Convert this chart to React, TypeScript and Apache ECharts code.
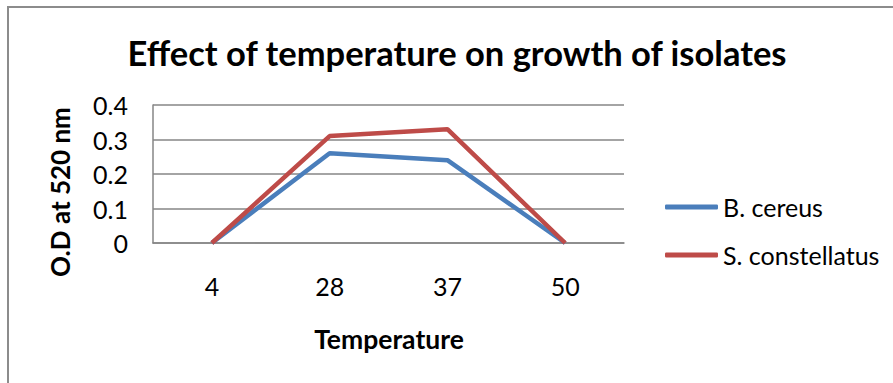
import React, { useEffect, useRef } from "react";
import * as echarts from "echarts";

const temperatures = ["4", "28", "37", "50"];
const bCereus = [0, 0.26, 0.24, 0];
const sConstellatus = [0, 0.31, 0.33, 0];
const yTicks = [0, 0.1, 0.2, 0.3, 0.4];

const FONT = "Lato";

export default function App() {
  const ref = useRef<HTMLDivElement>(null);

  useEffect(() => {
    if (!ref.current) return;
    const chart = echarts.init(ref.current, undefined, { renderer: "svg" });
    chart.setOption({
      animation: false,
      backgroundColor: "#ffffff",
      grid: { left: 153, top: 105, right: 269, bottom: 140, containLabel: false },
      xAxis: {
        type: "category",
        data: temperatures,
        boundaryGap: true,
        axisLine: { show: true, lineStyle: { color: "#868686", width: 1.5 } },
        axisTick: { show: false },
        axisLabel: {
          margin: 30,
          fontFamily: FONT,
          fontSize: 25,
          lineHeight: 25,
          color: "#000",
        },
      },
      yAxis: {
        type: "value",
        min: yTicks[0],
        max: yTicks[yTicks.length - 1],
        interval: 0.1,
        axisLine: { show: true, lineStyle: { color: "#868686", width: 1.5 } },
        axisTick: { show: false },
        splitLine: { show: true, lineStyle: { color: "#868686", width: 1.5 } },
        axisLabel: {
          margin: 25,
          fontFamily: FONT,
          fontSize: 25,
          color: "#000",
          formatter: (v: number) => (v === 0 ? "0" : String(Math.round(v * 10) / 10)),
        },
      },
      legend: {
        orient: "vertical",
        left: 665,
        top: 193,
        padding: 0,
        itemWidth: 53,
        itemHeight: 5,
        itemGap: 20,
        icon: "roundRect",
        textStyle: { fontFamily: FONT, fontSize: 25, lineHeight: 28, color: "#000" },
        data: ["B. cereus", "S. constellatus"],
      },
      series: [
        {
          name: "B. cereus",
          type: "line",
          data: bCereus,
          symbol: "none",
          lineStyle: { color: "#4A7EBB", width: 4.5 },
          itemStyle: { color: "#4A7EBB" },
        },
        {
          name: "S. constellatus",
          type: "line",
          data: sConstellatus,
          symbol: "none",
          lineStyle: { color: "#BE4B48", width: 4.5 },
          itemStyle: { color: "#BE4B48" },
        },
      ],
      graphic: [
        {
          type: "rect",
          shape: { x: 8, y: 7, width: 1000, height: 500 },
          style: { fill: "none", stroke: "#8c8c8c", lineWidth: 2 },
          silent: true,
        },
        {
          type: "text",
          x: 457,
          y: 52,
          style: {
            text: "Effect of temperature on growth of isolates",
            fontFamily: FONT,
            fontWeight: "bold",
            fontSize: 34.5,
            fill: "#000",
            align: "center",
            verticalAlign: "middle",
          },
        },
        {
          type: "text",
          x: 60,
          y: 192,
          rotation: Math.PI / 2,
          style: {
            text: "O.D at 520 nm",
            fontFamily: FONT,
            fontWeight: "bold",
            fontSize: 26,
            fill: "#000",
            align: "center",
            verticalAlign: "middle",
          },
        },
        {
          type: "text",
          x: 389,
          y: 339,
          style: {
            text: "Temperature",
            fontFamily: FONT,
            fontWeight: "bold",
            fontSize: 26.5,
            fill: "#000",
            align: "center",
            verticalAlign: "middle",
          },
        },
      ],
    });
    return () => chart.dispose();
  }, []);

  return (
    <div
      ref={ref}
      style={{ position: "fixed", left: 0, top: 0, width: 893, height: 383 }}
    />
  );
}
